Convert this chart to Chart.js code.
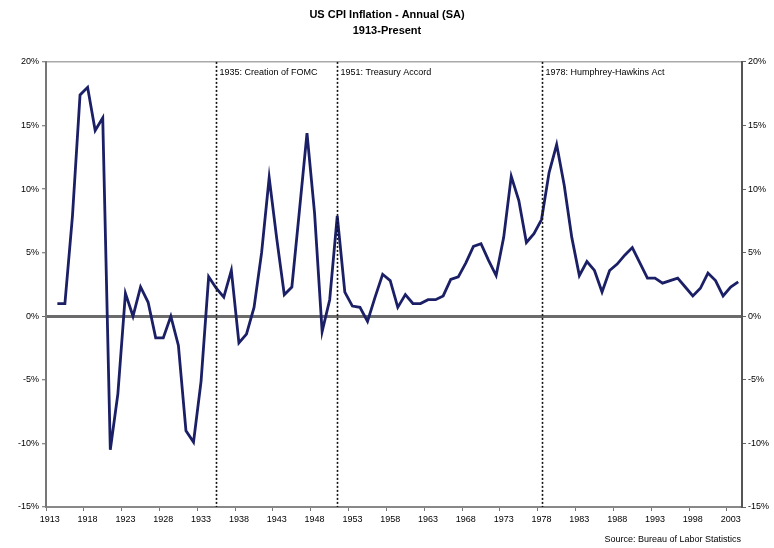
<!DOCTYPE html>
<html lang="en">
<head>
    <meta charset="UTF-8">
    <title>US CPI Inflation - Annual (SA)</title>
    <script src="https://cdn.jsdelivr.net/npm/chart.js"></script>
    <style>
        body {
            margin: 0;
            background-color: #fff;
        }
        .wrap {
            position: relative;
            width: 774px;
            height: 548px;
        }
    </style>
</head>
<body>
    <div class="wrap">
        <canvas id="cpi"></canvas>
    </div>

    <script>
        // Years on the category axis (1913 has no value, the series starts in 1914)
        const years = [
            "1913", "1914", "1915", "1916", "1917", "1918", "1919", "1920", "1921", "1922",
            "1923", "1924", "1925", "1926", "1927", "1928", "1929", "1930", "1931", "1932",
            "1933", "1934", "1935", "1936", "1937", "1938", "1939", "1940", "1941", "1942",
            "1943", "1944", "1945", "1946", "1947", "1948", "1949", "1950", "1951", "1952",
            "1953", "1954", "1955", "1956", "1957", "1958", "1959", "1960", "1961", "1962",
            "1963", "1964", "1965", "1966", "1967", "1968", "1969", "1970", "1971", "1972",
            "1973", "1974", "1975", "1976", "1977", "1978", "1979", "1980", "1981", "1982",
            "1983", "1984", "1985", "1986", "1987", "1988", "1989", "1990", "1991", "1992",
            "1993", "1994", "1995", "1996", "1997", "1998", "1999", "2000", "2001", "2002",
            "2003", "2004"
        ];

        // Annual CPI inflation, percent
        const inflation = [
            null, 1.0, 1.0, 7.9, 17.4, 18.0, 14.6, 15.6, -10.5, -6.1,
            1.8, 0.0, 2.3, 1.1, -1.7, -1.7, 0.0, -2.3, -9.0, -9.9,
            -5.1, 3.1, 2.2, 1.5, 3.6, -2.1, -1.4, 0.7, 5.0, 10.9,
            6.1, 1.7, 2.3, 8.3, 14.4, 8.1, -1.2, 1.3, 7.9, 1.9,
            0.8, 0.7, -0.4, 1.5, 3.3, 2.8, 0.7, 1.7, 1.0, 1.0,
            1.3, 1.3, 1.6, 2.9, 3.1, 4.2, 5.5, 5.7, 4.4, 3.2,
            6.2, 11.0, 9.1, 5.8, 6.5, 7.6, 11.3, 13.5, 10.3, 6.2,
            3.2, 4.3, 3.6, 1.9, 3.6, 4.1, 4.8, 5.4, 4.2, 3.0,
            3.0, 2.6, 2.8, 3.0, 2.3, 1.6, 2.2, 3.4, 2.8, 1.6,
            2.3, 2.7
        ];

        // Policy events marked with dotted lines
        const eventYears = ["1935", "1951", "1978"];
        const eventLabels = [
            "1935: Creation of FOMC",
            "1951: Treasury Accord",
            "1978: Humphrey-Hawkins Act"
        ];

        const sourceNote = "Source: Bureau of Labor Statistics";

        const FONT = "'Liberation Sans', Arial, sans-serif";

        // dotted event lines, their captions and the source note
        const eventLines = {
            id: "eventLines",
            afterDatasetsDraw(chart) {
                const { ctx, chartArea, scales } = chart;
                ctx.save();
                eventYears.forEach((yr, i) => {
                    const px = Math.round(scales.x.getPixelForValue(years.indexOf(yr))) + 0.5;
                    ctx.beginPath();
                    ctx.setLineDash([2, 2]);
                    ctx.lineWidth = 1.6;
                    ctx.strokeStyle = "#111";
                    ctx.moveTo(px, chartArea.top);
                    ctx.lineTo(px, chartArea.bottom);
                    ctx.stroke();

                    ctx.setLineDash([]);
                    ctx.fillStyle = "#000";
                    ctx.font = "9px " + FONT;
                    ctx.textAlign = "left";
                    ctx.textBaseline = "middle";
                    ctx.fillText(eventLabels[i], px + 3, chartArea.top + 11);
                });

                ctx.font = "9px " + FONT;
                ctx.textAlign = "right";
                ctx.textBaseline = "middle";
                ctx.fillStyle = "#000";
                ctx.fillText(sourceNote, chartArea.right - 1, 540);
                ctx.restore();
            }
        };

        const pct = v => v + "%";

        new Chart(document.getElementById("cpi"), {
            type: "line",
            data: {
                labels: years,
                datasets: [{
                    label: "CPI Inflation",
                    data: inflation,
                    borderColor: "#1b1f66",
                    borderWidth: 2.8,
                    pointRadius: 0,
                    tension: 0,
                    fill: false,
                    yAxisID: "y"
                }]
            },
            options: {
                responsive: true,
                maintainAspectRatio: false,
                animation: false,
                layout: { padding: 0 },
                plugins: {
                    legend: { display: false },
                    tooltip: { enabled: false },
                    title: {
                        display: true,
                        text: ["US CPI Inflation - Annual (SA)", "1913-Present"],
                        color: "#000",
                        font: { family: FONT, size: 11, weight: "bold", lineHeight: 1.45 },
                        padding: { top: 7, bottom: 23 }
                    }
                },
                scales: {
                    x: {
                        offset: true,
                        afterFit(scale) { scale.height = 41; },
                        grid: {
                            offset: true,
                            drawOnChartArea: false,
                            tickLength: 4,
                            color: ctx => (ctx.index % 5 === 0 ? "#777" : "transparent")
                        },
                        border: { display: true, color: "#888", width: 2 },
                        ticks: {
                            autoSkip: false,
                            maxRotation: 0,
                            padding: 3,
                            color: "#000",
                            font: { family: FONT, size: 9 },
                            callback: function (value, index) {
                                return index % 5 === 0 ? this.getLabelForValue(value) : "";
                            }
                        }
                    },
                    y: {
                        position: "left",
                        min: -15,
                        max: 20,
                        afterFit(scale) { scale.width = 46; },
                        grid: {
                            tickLength: 4,
                            tickColor: "#666",
                            tickWidth: 1,
                            color: ctx => {
                                const v = ctx.tick && ctx.tick.value;
                                if (v === 0) return "#6b6b6b";
                                if (v === 20) return "#aaa";
                                return "transparent";
                            },
                            lineWidth: ctx => (ctx.tick && ctx.tick.value === 0 ? 3 : 1.5)
                        },
                        border: { display: true, color: "#777", width: 2 },
                        ticks: {
                            stepSize: 5,
                            padding: 3,
                            color: "#000",
                            font: { family: FONT, size: 9 },
                            callback: pct
                        }
                    },
                    y2: {
                        position: "right",
                        min: -15,
                        max: 20,
                        afterFit(scale) { scale.width = 32; },
                        grid: {
                            drawOnChartArea: false,
                            tickLength: 4,
                            color: "#666"
                        },
                        border: { display: true, color: "#555", width: 2 },
                        ticks: {
                            stepSize: 5,
                            padding: 2,
                            color: "#000",
                            font: { family: FONT, size: 9 },
                            callback: pct
                        }
                    }
                }
            },
            plugins: [eventLines]
        });
    </script>
</body>
</html>
